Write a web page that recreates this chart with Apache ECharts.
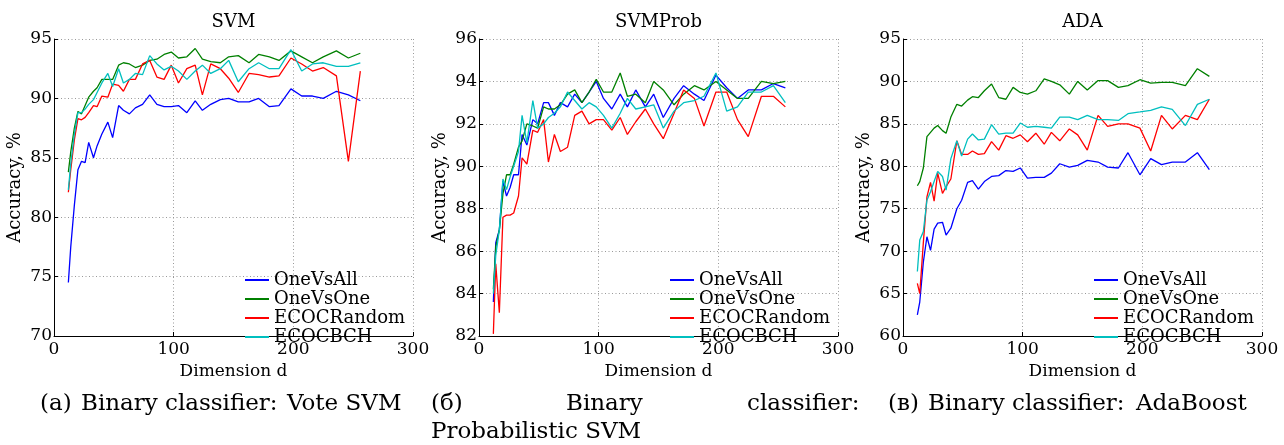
<!DOCTYPE html>
<html>
<head>
<meta charset="utf-8">
<script src="https://cdn.jsdelivr.net/npm/echarts@6/dist/echarts.min.js"></script>
<style>
html,body{margin:0;padding:0;background:#fff;}
#chart{width:1284px;height:445px;}
</style>
</head>
<body>
<div id="chart"></div>
<script>
// Dimension d values (x axis)
const dims = [12,14,17,20,23,26,29,33,36,40,45,49,54,58,63,68,74,80,86,92,98,104,111,118,124,131,139,146,154,163,171,180,188,198,207,216,225,236,246,256];

const seriesNames = ['OneVsAll','OneVsOne','ECOCRandom','ECOCBCH'];
const panelTitles = ['SVM','SVMProb','ADA'];
const xTicks = [0,100,200,300];

// Panel (a): SVM
const svmOneVsAll = [74.5,77.5,81.0,84.0,84.7,84.6,86.3,85.0,86.0,87.0,88.0,86.7,89.4,89.0,88.7,89.2,89.5,90.3,89.5,89.3,89.3,89.4,88.8,89.8,89.0,89.5,89.9,90.0,89.7,89.7,90.0,89.3,89.4,90.8,90.2,90.2,90.0,90.6,90.3,89.8];
const svmOneVsOne = [83.8,85.5,87.5,88.9,88.7,89.4,90.1,90.6,90.9,91.6,91.6,91.6,92.8,93.0,92.9,92.6,92.8,93.2,93.3,93.7,93.9,93.4,93.5,94.2,93.3,93.1,93.0,93.5,93.6,93.0,93.7,93.5,93.2,94.0,93.5,93.0,93.5,94.0,93.4,93.8];
const svmEcocRandom = [82.1,84.0,86.5,88.3,88.2,88.4,88.8,89.4,89.3,90.2,90.1,91.2,91.1,90.6,91.6,91.6,92.9,93.2,91.8,91.6,92.8,91.3,92.5,92.8,90.3,92.9,92.5,91.7,90.5,92.1,92.0,91.8,91.9,93.4,92.9,92.3,92.6,91.9,84.7,92.3];
const svmEcocBch = [82.3,84.5,87.0,88.8,88.8,89.1,89.5,89.9,90.5,91.3,92.1,91.0,92.5,91.3,91.6,92.1,92.0,93.6,92.9,92.4,92.7,92.3,91.6,92.3,92.8,92.1,92.5,93.2,91.4,92.5,93.0,92.5,92.5,94.1,92.3,92.9,93.0,92.7,92.7,93.0];

// Panel (b): SVMProb
const probOneVsAll = [83.6,86.4,87.0,89.3,88.6,89.0,89.6,89.6,91.5,91.0,92.2,92.0,93.0,93.0,92.4,93.0,92.8,93.4,93.0,93.5,94.0,93.2,92.7,93.4,92.8,93.6,92.8,93.4,92.3,93.2,93.8,93.4,93.1,94.3,93.7,93.2,93.6,93.6,93.9,93.7];
const probOneVsOne = [84.2,86.2,87.0,88.7,89.6,89.6,90.1,90.9,91.2,92.0,91.9,91.8,92.8,92.7,92.7,92.9,93.4,93.6,93.0,93.5,94.1,93.5,93.5,94.4,93.3,93.4,93.0,94.0,93.6,92.9,93.4,93.8,93.6,94.0,93.6,93.2,93.2,94.0,93.9,94.0];
const probEcocRandom = [82.1,85.4,83.1,87.6,87.7,87.7,87.8,88.6,90.4,90.1,91.7,91.6,92.2,90.2,91.5,90.7,90.9,92.4,92.6,92.0,92.2,92.2,91.7,92.3,91.5,92.1,92.7,92.0,91.3,92.5,93.6,93.2,91.9,93.5,93.5,92.2,91.4,93.3,93.3,92.8];
const probEcocBch = [84.0,85.8,87.0,89.4,88.9,89.5,90.0,90.7,92.4,91.1,93.1,91.8,92.0,92.3,92.5,92.8,93.5,93.1,92.7,93.0,92.8,92.4,91.8,92.5,93.2,92.7,92.8,92.9,91.8,92.6,93.0,93.1,93.3,94.4,92.6,92.8,93.5,93.5,93.8,93.0];

// Panel (c): ADA
const adaOneVsAll = [62.5,64.0,68.7,71.7,70.1,72.6,73.3,73.4,71.9,72.7,75.0,76.0,78.1,78.3,77.3,78.2,78.8,78.9,79.5,79.4,79.8,78.6,78.7,78.7,79.2,80.3,79.9,80.1,80.7,80.5,79.9,79.8,81.6,79.0,80.9,80.2,80.5,80.5,81.6,79.6];
const adaOneVsOne = [77.7,78.2,79.8,83.5,84.0,84.5,84.8,84.2,83.9,85.8,87.3,87.1,87.8,88.2,88.1,88.9,89.7,88.1,87.9,89.3,88.7,88.5,88.9,90.3,90.0,89.6,88.5,90.0,89.0,90.1,90.1,89.3,89.5,90.2,89.8,89.9,89.9,89.5,91.5,90.6];
const adaEcocRandom = [66.2,65.0,71.0,76.4,78.1,75.9,79.2,76.8,77.6,78.5,83.0,81.4,81.4,81.8,81.4,81.5,82.9,81.9,83.6,83.3,83.7,82.9,83.9,82.6,84.0,83.0,84.4,83.7,81.9,86.0,84.7,85.0,85.0,84.5,81.8,86.0,84.4,86.0,85.5,87.9];
const adaEcocBch = [67.6,71.3,72.3,76.0,77.0,78.2,79.4,78.8,77.2,80.9,83.0,81.2,83.2,83.8,83.1,83.2,84.9,83.8,83.9,83.9,85.1,84.6,84.7,84.6,84.5,85.8,85.8,85.5,86.0,85.5,85.5,85.4,86.2,86.4,86.6,87.0,86.7,84.8,87.3,87.9];

// y-axis ranges per panel
const yMins = [70, 82, 60];
const yMaxs = [95, 96, 95];
const yIntervals = [5, 2, 5];

const panelData = [
  [svmOneVsAll, svmOneVsOne, svmEcocRandom, svmEcocBch],
  [probOneVsAll, probOneVsOne, probEcocRandom, probEcocBch],
  [adaOneVsAll, adaOneVsOne, adaEcocRandom, adaEcocBch]
];

const colors = ['#0000ff', '#008000', '#ff0000', '#00bfbf'];
const FONT = '"DejaVu Serif", serif';

const gridLefts = [54, 479, 903];
const gridWidth = 359;
const gridTop = 39;
const gridHeight = 297;

const chart = echarts.init(document.getElementById('chart'), null, {renderer: 'canvas'});

const grids = [], xAxes = [], yAxes = [], series = [], legends = [], graphics = [];

for (let p = 0; p < 3; p++) {
  grids.push({left: gridLefts[p], top: gridTop, width: gridWidth, height: gridHeight, containLabel: false});
  xAxes.push({
    type: 'value', gridIndex: p, min: xTicks[0], max: xTicks[xTicks.length - 1], interval: 100,
    name: 'Dimension d', nameLocation: 'middle', nameGap: 22,
    nameTextStyle: {fontFamily: FONT, fontSize: 17, color: '#000'},
    axisLine: {show: true, lineStyle: {color: '#000', width: 1}},
    axisTick: {show: true, inside: true, length: 4, lineStyle: {color: '#000'}},
    axisLabel: {fontFamily: FONT, fontSize: 17, color: '#000', margin: 5},
    splitLine: {show: true, lineStyle: {color: '#999', width: 1, type: [1, 2.5]}}
  });
  yAxes.push({
    type: 'value', gridIndex: p, min: yMins[p], max: yMaxs[p], interval: yIntervals[p],
    name: 'Accuracy, %', nameLocation: 'middle', nameGap: 30, nameRotate: 90,
    nameTextStyle: {fontFamily: FONT, fontSize: 18, color: '#000'},
    axisLine: {show: true, lineStyle: {color: '#000', width: 1}},
    axisTick: {show: true, inside: true, length: 4, lineStyle: {color: '#000'}},
    axisLabel: {fontFamily: FONT, fontSize: 17, color: '#000', margin: 2},
    splitLine: {show: true, lineStyle: {color: '#999', width: 1, type: [1, 2.5]}}
  });
  for (let s = 0; s < 4; s++) {
    const vals = panelData[p][s];
    series.push({
      type: 'line', name: seriesNames[s], xAxisIndex: p, yAxisIndex: p,
      data: dims.map((d, i) => [d, vals[i]]),
      showSymbol: false, symbol: 'none',
      lineStyle: {color: colors[s], width: 1.3},
      itemStyle: {color: colors[s]},
      emphasis: {disabled: true}
    });
  }
  legends.push({
    orient: 'vertical', left: gridLefts[p] + 191, top: 271, padding: 0,
    itemWidth: 24, itemHeight: 2, itemGap: 1, icon: 'rect',
    selectedMode: false,
    textStyle: {fontFamily: FONT, fontSize: 18, color: '#000', lineHeight: 14},
    data: seriesNames
  });
  graphics.push({
    type: 'text', x: gridLefts[p] + gridWidth / 2, y: 22,
    style: {text: panelTitles[p], font: '18px ' + FONT, fill: '#000', textAlign: 'center', textVerticalAlign: 'middle'}
  });
}

// Captions (word-placed to mimic justified LaTeX captions)
const captionWords = [
  ['(a)', 40, 404], ['Binary', 81, 404], ['classifier:', 165, 404], ['Vote SVM', 287, 404],
  ['(б)', 431, 404], ['Binary', 566, 404], ['classifier:', 747, 404], ['Probabilistic SVM', 431, 432],
  ['(в)', 888, 404], ['Binary', 928, 404], ['classifier:', 1012, 404], ['AdaBoost', 1136, 404]
];
captionWords.forEach(w => {
  graphics.push({
    type: 'text', x: w[1], y: w[2],
    style: {text: w[0], font: '23px ' + FONT, fill: '#000', textAlign: 'left', textVerticalAlign: 'middle'}
  });
});

chart.setOption({
  animation: false,
  backgroundColor: '#fff',
  grid: grids,
  xAxis: xAxes,
  yAxis: yAxes,
  legend: legends,
  series: series,
  graphic: graphics
});
</script>
</body>
</html>
